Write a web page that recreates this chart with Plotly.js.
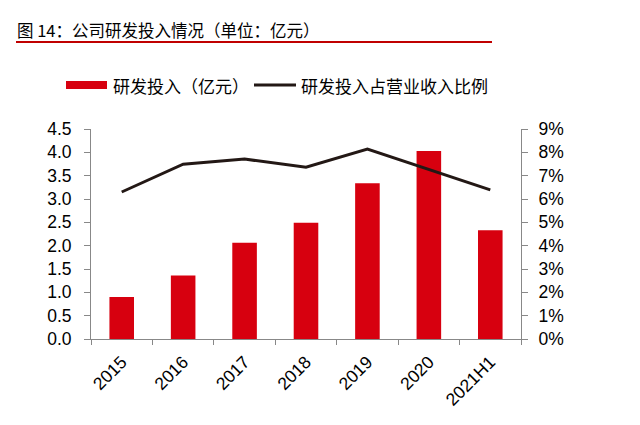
<!DOCTYPE html>
<html><head><meta charset="utf-8">
<script src="https://cdn.plot.ly/plotly-3.0.1.min.js"></script>
<style>html,body{margin:0;padding:0;background:#fff;}#chart{width:640px;height:425px;}</style>
</head><body><div id="chart"></div>
<script>
var categories = ['2015','2016','2017','2018','2019','2020','2021H1'];
var rdSpend = [0.90, 1.36, 2.06, 2.49, 3.34, 4.03, 2.33];
var rdRatio = [6.30, 7.49, 7.71, 7.36, 8.14, 7.27, 6.39];
var barName = '研发投入（亿元）';
var lineName = '研发投入占营业收入比例';
var titleText = '图 14：公司研发投入情况（单位：亿元）';

var L = 91, R = 521, T = 129, B = 339, W = 640, H = 425;
function px(x){ return (x - L) / (R - L); }
function py(y){ return (B - y) / (B - T); }
var cjk = '"Noto Sans CJK SC", "Noto Sans", sans-serif';
var lat = '"Liberation Sans", Arial, sans-serif';

var traces = [
  {type:'bar', x:categories, y:rdSpend, name:barName, marker:{color:'#D7000F'}, width:0.4, yaxis:'y', showlegend:false},
  {type:'scatter', mode:'lines', x:categories, y:rdRatio, name:lineName, line:{color:'#231815', width:3}, yaxis:'y2', showlegend:false}
];

var axisCommon = {showline:true, linecolor:'#888', linewidth:1, ticks:'outside', ticklen:6, tickcolor:'#888', showgrid:false, zeroline:false, tickfont:{family:lat, size:17.5, color:'#000'}};

var layout = {
  width:W, height:H,
  margin:{l:L, r:W-R, t:T, b:H-B, pad:0},
  paper_bgcolor:'#fff', plot_bgcolor:'#fff',
  title:{text:titleText, x:17/W, xanchor:'left', y:1-31/H, yanchor:'middle', font:{family:cjk, size:16.5, color:'#000'}},
  xaxis:Object.assign({}, axisCommon, {type:'category', tickson:'boundaries', tickangle:-45, ticklen:5, ticklabelstandoff:5}),
  yaxis:Object.assign({}, axisCommon, {range:[0,4.5], dtick:0.5, tickformat:'.1f', ticklabelstandoff:9}),
  yaxis2:Object.assign({}, axisCommon, {overlaying:'y', side:'right', range:[0,9], dtick:1, ticksuffix:'%', ticklabelstandoff:7}),
  bargap:0.6,
  shapes:[
    {type:'line', xref:'paper', yref:'paper', x0:px(16), x1:px(492), y0:py(42), y1:py(42), line:{color:'#C00000', width:2}},
    {type:'rect', xref:'paper', yref:'paper', x0:px(66), x1:px(107), y0:py(81), y1:py(89), fillcolor:'#D7000F', line:{width:0}},
    {type:'line', xref:'paper', yref:'paper', x0:px(254), x1:px(296), y0:py(85), y1:py(85), line:{color:'#231815', width:3}}
  ],
  annotations:[
    {xref:'paper', yref:'paper', x:px(111), y:py(85), xanchor:'left', yanchor:'middle', text:barName, showarrow:false, font:{family:cjk, size:17, color:'#000'}},
    {xref:'paper', yref:'paper', x:px(299), y:py(85), xanchor:'left', yanchor:'middle', text:lineName, showarrow:false, font:{family:cjk, size:17, color:'#000'}}
  ]
};
Plotly.newPlot('chart', traces, layout, {staticPlot:true, displayModeBar:false});
</script></body></html>
